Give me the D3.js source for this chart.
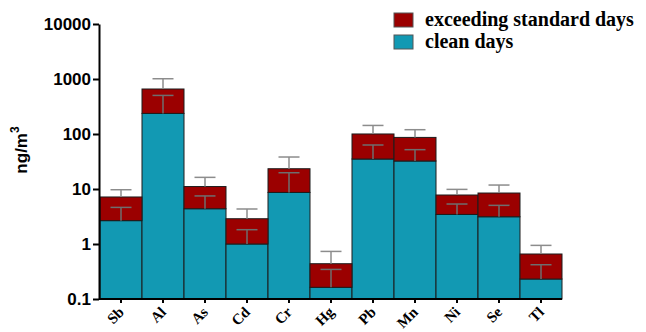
<!DOCTYPE html>
<html>
<head>
<meta charset="utf-8">
<script src="https://cdn.jsdelivr.net/npm/d3@7/dist/d3.min.js"></script>
<style>
  html, body { margin: 0; padding: 0; background: #fff; }
  svg { display: block; }
</style>
</head>
<body>
<svg id="chart" width="646" height="332"></svg>
<script>
// Elements measured
const categories = ["Sb", "Al", "As", "Cd", "Cr", "Hg", "Pb", "Mn", "Ni", "Se", "Tl"];
// Mean concentration on clean days (ng/m3)
const cleanDays = [2.66, 237, 4.38, 1.0, 8.66, 0.163, 35.1, 32.3, 3.45, 3.13, 0.231];
// Additional mean concentration on exceeding-standard days, stacked on clean days
const exceedDays = [4.5, 421, 6.7, 1.88, 14.7, 0.275, 65, 54.4, 4.33, 5.32, 0.427];
// Standard deviations for each segment
const cleanSD = [1.97, 266, 3.1, 0.82, 11.1, 0.182, 28, 19.6, 1.88, 1.91, 0.189];
const exceedSD = [2.54, 353, 5.2, 1.45, 14.8, 0.295, 43, 33, 2.06, 3.35, 0.286];
const yTicks = [0.1, 1, 10, 100, 1000, 10000];
const yTickLabels = ["0.1", "1", "10", "100", "1000", "10000"];
const seriesNames = ["exceeding standard days", "clean days"];

const colors = { exceed: "#9b0000", clean: "#1299b3" };

const svg = d3.select("#chart");

const x = d3.scaleBand().domain(categories).range([100, 562]).padding(0);
const y = d3.scaleLog().domain([0.1, 10000]).range([299, 24]);

const rows = categories.map((c, i) => ({
  name: c,
  clean: cleanDays[i],
  total: cleanDays[i] + exceedDays[i],
  cleanSD: cleanSD[i],
  exceedSD: exceedSD[i]
}));

// Stacked bars
const g = svg.append("g");
g.selectAll("rect.clean").data(rows).join("rect")
  .attr("class", "clean")
  .attr("x", d => x(d.name))
  .attr("width", x.bandwidth())
  .attr("y", d => y(d.clean))
  .attr("height", d => y(0.1) - y(d.clean))
  .attr("fill", colors.clean)
  .attr("stroke", "#1c1c1c")
  .attr("stroke-width", 1);

g.selectAll("rect.exceed").data(rows).join("rect")
  .attr("class", "exceed")
  .attr("x", d => x(d.name))
  .attr("width", x.bandwidth())
  .attr("y", d => y(d.total))
  .attr("height", d => y(d.clean) - y(d.total))
  .attr("fill", colors.exceed)
  .attr("stroke", "#1c1c1c")
  .attr("stroke-width", 1);

// Error bars (upper only)
const capHalf = x.bandwidth() / 4;
function errorBars(cls, base, top, color) {
  const eg = g.selectAll("g." + cls).data(rows).join("g").attr("class", cls)
    .attr("stroke", color).attr("stroke-width", 1.5).attr("fill", "none");
  eg.append("line")
    .attr("x1", d => x(d.name) + x.bandwidth() / 2)
    .attr("x2", d => x(d.name) + x.bandwidth() / 2)
    .attr("y1", d => y(base(d)))
    .attr("y2", d => y(top(d)));
  eg.append("line")
    .attr("x1", d => x(d.name) + x.bandwidth() / 2 - capHalf)
    .attr("x2", d => x(d.name) + x.bandwidth() / 2 + capHalf)
    .attr("y1", d => y(top(d)))
    .attr("y2", d => y(top(d)));
}
errorBars("err-clean", d => d.clean, d => d.clean + d.cleanSD, "#6e6e6e");
errorBars("err-exceed", d => d.total, d => d.total + d.exceedSD, "#8c8c8c");

// Y axis
const yAxis = d3.axisLeft(y)
  .tickValues(yTicks)
  .tickFormat((d, i) => yTickLabels[i])
  .tickSize(6)
  .tickSizeOuter(0)
  .tickPadding(2);
const ya = svg.append("g").attr("transform", "translate(99,0)").call(yAxis);
ya.select(".domain").attr("stroke", "#000").attr("stroke-width", 2);
ya.selectAll(".tick line").attr("stroke", "#000").attr("stroke-width", 2);
ya.selectAll(".tick text")
  .attr("font-family", "Liberation Sans, Arial, sans-serif")
  .attr("font-weight", "bold")
  .attr("font-size", 17)
  .attr("fill", "#000");

// X axis: line and ticks from the band scale, labels drawn slanted
const xAxis = d3.axisBottom(x).tickSize(4).tickSizeOuter(0).tickFormat("");
const xa = svg.append("g").attr("transform", "translate(0,299)").call(xAxis);
xa.select(".domain").attr("stroke", "#000").attr("stroke-width", 2)
  .attr("d", "M99,0H562");
xa.selectAll(".tick line").attr("stroke", "#000").attr("stroke-width", 2);

const c45 = Math.SQRT1_2;
svg.append("g").selectAll("text.xlabel").data(categories).join("text")
  .attr("class", "xlabel")
  .attr("transform", d => `matrix(${c45},${-c45},${c45},${c45},${x(d) + x.bandwidth() / 2 + 4},313)`)
  .attr("text-anchor", "end")
  .attr("font-family", "Liberation Serif, Times New Roman, serif")
  .attr("font-weight", "bold")
  .attr("font-size", 15)
  .attr("fill", "#000")
  .text(d => d);

// Y axis title
const yt = svg.append("text")
  .attr("transform", "translate(27,150) rotate(-90)")
  .attr("text-anchor", "middle")
  .attr("font-family", "Liberation Sans, Arial, sans-serif")
  .attr("font-weight", "bold")
  .attr("font-size", 17)
  .attr("fill", "#000");
yt.append("tspan").text("ng/m");
yt.append("tspan").attr("dy", -8).attr("font-size", 12).text("3");

// Legend
const legend = svg.append("g").attr("transform", "translate(394,13)");
const legendColors = [colors.exceed, colors.clean];
seriesNames.forEach((name, i) => {
  const lg = legend.append("g").attr("transform", `translate(0,${i * 22})`);
  lg.append("rect").attr("width", 19).attr("height", 14)
    .attr("fill", legendColors[i]).attr("stroke", "#555").attr("stroke-width", 1);
  lg.append("text").attr("x", 31).attr("y", 13)
    .attr("font-family", "Liberation Serif, Times New Roman, serif")
    .attr("font-weight", "bold")
    .attr("font-size", 20)
    .attr("fill", "#000")
    .text(name);
});
</script>
</body>
</html>
